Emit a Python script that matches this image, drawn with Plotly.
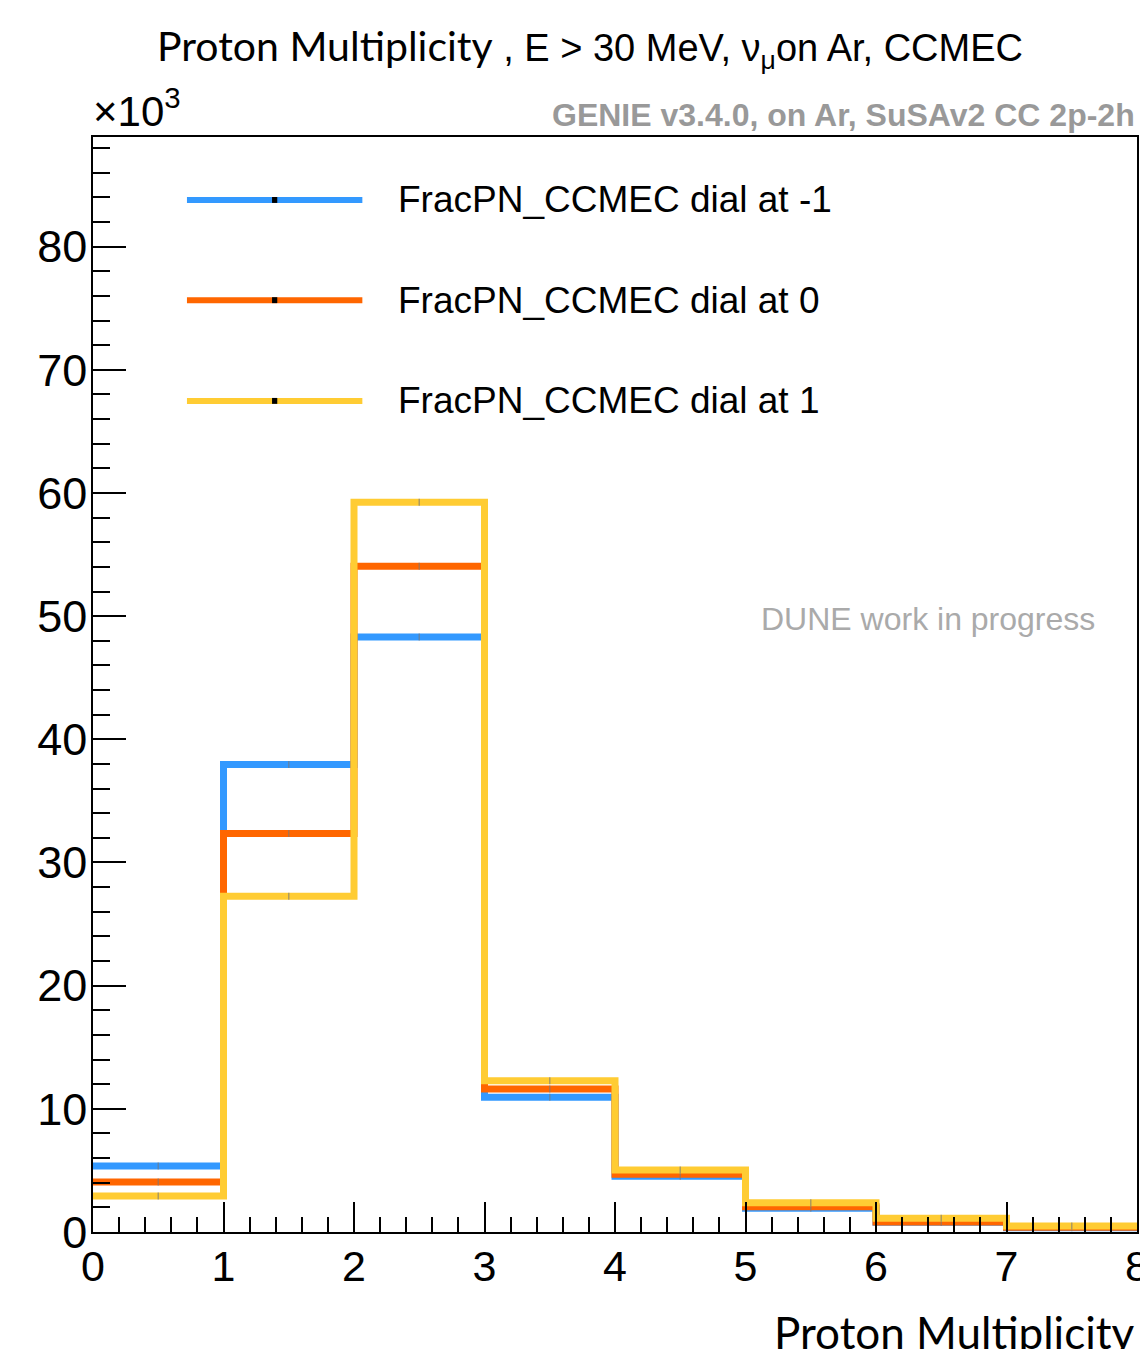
import plotly.graph_objects as go

# Bin edges (proton multiplicity) and contents (in units of 10^3 events)
bin_edges = [0, 1, 2, 3, 4, 5, 6, 7, 8]
dial_m1 = [5.36, 37.96, 48.3, 10.93, 4.52, 1.92, 0.79, 0.35]
dial_0 = [4.06, 32.36, 54.06, 11.6, 4.68, 2.06, 0.82, 0.38]
dial_p1 = [2.92, 27.25, 59.25, 12.28, 5.03, 2.38, 1.11, 0.49]

series_names = ["FracPN_CCMEC dial at -1", "FracPN_CCMEC dial at 0", "FracPN_CCMEC dial at 1"]
series_vals = [dial_m1, dial_0, dial_p1]
series_colors = ["#3399ff", "#ff6600", "#ffcc33"]

x_ticks = [0, 1, 2, 3, 4, 5, 6, 7, 8]
y_ticks = [0, 10, 20, 30, 40, 50, 60, 70, 80]

HELV = "Liberation Sans, Arial, sans-serif"
HUMAN = "Lato, Open Sans, sans-serif"

fig = go.Figure()
centers = [(bin_edges[i] + bin_edges[i + 1]) / 2 for i in range(len(bin_edges) - 1)]
for name, vals, col in zip(series_names, series_vals, series_colors):
    fig.add_trace(go.Scatter(
        x=bin_edges, y=vals + [vals[-1]], mode="lines", line_shape="hv",
        line=dict(color=col, width=7), name=name, showlegend=False,
        hoverinfo="skip", cliponaxis=True))
    fig.add_trace(go.Scatter(
        x=centers, y=vals, mode="markers",
        marker=dict(symbol="line-ns", size=5, line=dict(color="rgba(120,120,120,0.6)", width=1.5)),
        showlegend=False, hoverinfo="skip"))

# Manual legend (ROOT style)
leg_y = [0.9425, 0.851, 0.759]
for name, col, yy in zip(series_names, series_colors, leg_y):
    fig.add_shape(type="line", xref="paper", yref="paper", x0=0.090, x1=0.258, y0=yy, y1=yy,
                  line=dict(color=col, width=6))
    fig.add_shape(type="rect", xref="paper", yref="paper", x0=0.1715, x1=0.1765,
                  y0=yy - 0.0027, y1=yy + 0.0027, fillcolor="black", line=dict(width=0))
    fig.add_annotation(xref="paper", yref="paper", x=0.290, y=yy, text=name, showarrow=False,
                       xanchor="left", yanchor="middle", font=dict(family=HELV, size=37, color="black"))

# Title
fig.add_annotation(xref="paper", yref="paper", x=0.476, y=1.0, yshift=89, xanchor="center", yanchor="middle",
                   showarrow=False,
                   text=("<span style='font-family:Lato, Open Sans, sans-serif; font-size:41px'>"
                         "Proton Multiplicity</span> , E > 30 MeV, ν<sub>μ</sub>on Ar, CCMEC"),
                   font=dict(family=HELV, size=38, color="black"))
# x10^3
fig.add_annotation(xref="paper", yref="paper", x=0.0, y=1.0, xshift=-2, yshift=0, xanchor="left", yanchor="bottom",
                   showarrow=False, text="×10<sup>3</sup>", font=dict(family=HELV, size=42, color="black"))
# GENIE label
fig.add_annotation(xref="paper", yref="paper", x=1.0, y=1.0, xshift=0, yshift=2, xanchor="right", yanchor="bottom",
                   showarrow=False, text="<b>GENIE v3.4.0, on Ar, SuSAv2 CC 2p-2h</b>",
                   font=dict(family=HELV, size=32, color="#999999"))
# DUNE label
fig.add_annotation(xref="paper", yref="paper", x=0.638, y=0.560, xanchor="left", yanchor="middle",
                   showarrow=False, text="DUNE work in progress",
                   font=dict(family=HELV, size=32, color="#aaaaaa"))
# X axis title
fig.add_annotation(xref="paper", yref="paper", x=1.0, y=0.0, yshift=-100, xanchor="right", yanchor="middle",
                   showarrow=False, text="Proton Multiplicity",
                   font=dict(family=HUMAN, size=44, color="black"))

fig.update_layout(
    width=1140, height=1349,
    margin=dict(l=93, r=3, t=137, b=117, autoexpand=False),
    paper_bgcolor="white", plot_bgcolor="white",
    showlegend=False,
    xaxis=dict(range=[0, 8], tickvals=x_ticks, ticktext=[str(v) for v in x_ticks],
               ticks="inside", ticklen=30, tickwidth=1.5, tickcolor="black",
               showline=True, linecolor="black", linewidth=1.5, mirror=True, automargin=False,
               showgrid=False, zeroline=False, ticklabeloverflow="allow", ticklabelstandoff=-4,
               tickfont=dict(family=HELV, size=43, color="black"),
               minor=dict(dtick=0.2, ticks="inside", ticklen=15, tickwidth=1.5, tickcolor="black", showgrid=False)),
    yaxis=dict(range=[0, 88.9], tickvals=y_ticks, ticktext=[str(v) for v in y_ticks],
               ticks="inside", ticklen=33, tickwidth=1.5, tickcolor="black",
               showline=True, linecolor="black", linewidth=1.5, mirror=True, automargin=False,
               showgrid=False, zeroline=False, ticklabelstandoff=-5,
               tickfont=dict(family=HELV, size=45, color="black"),
               minor=dict(dtick=2, ticks="inside", ticklen=17, tickwidth=1.5, tickcolor="black", showgrid=False)),
)

fig.write_html("out.html")
